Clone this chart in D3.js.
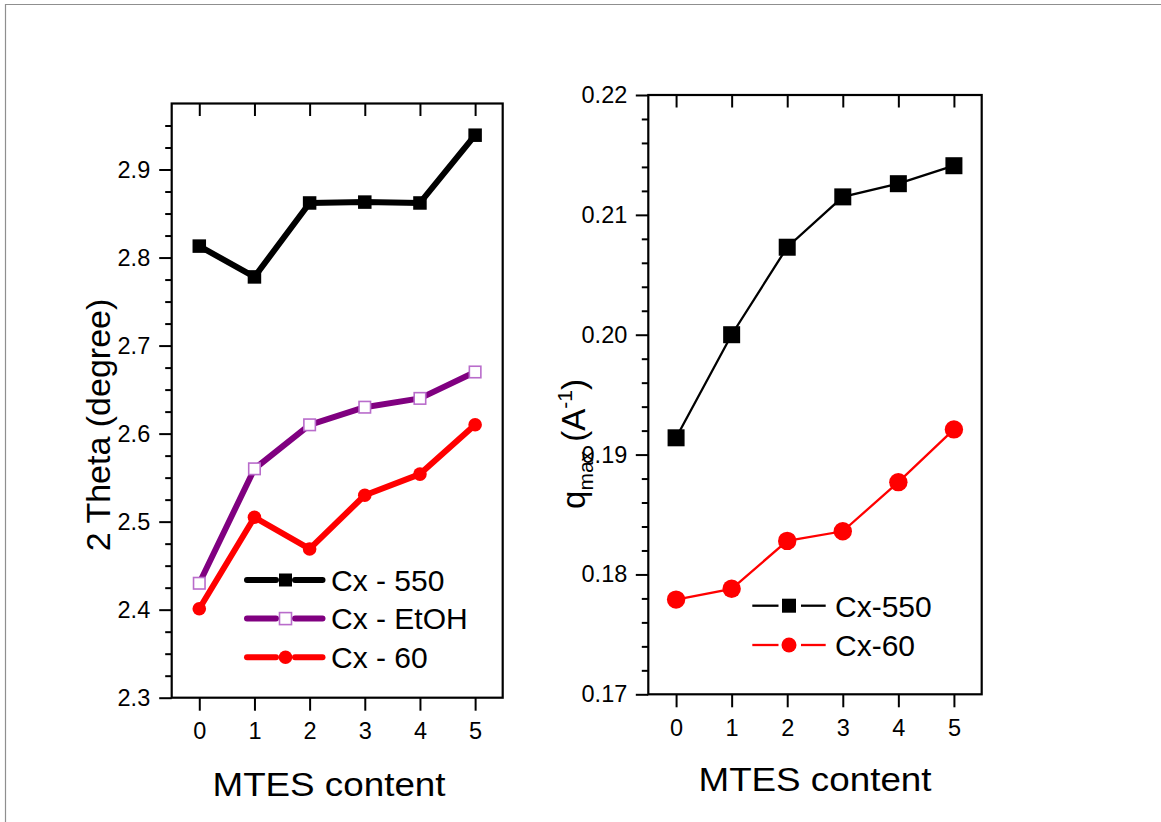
<!DOCTYPE html>
<html lang="en">
<head>
<meta charset="UTF-8">
<title>MTES content</title>
<script src="https://d3js.org/d3.v7.min.js"></script>
<style>
  body { margin: 0; background: #fff; }
  text { font-family: Arial, "Liberation Sans", sans-serif; fill: #000; }
</style>
</head>
<body>
<div class="canvas"></div>
<script>
  // data
  const mtes = [0, 1, 2, 3, 4, 5]
  const theta550 = [2.813, 2.778, 2.862, 2.863, 2.862, 2.939]
  const thetaEtOH = [2.43, 2.56, 2.61, 2.63, 2.64, 2.67]
  const theta60 = [2.401, 2.505, 2.469, 2.53, 2.554, 2.61]
  const q550 = [0.1914, 0.2000, 0.2073, 0.2115, 0.2126, 0.2141]
  const q60 = [0.1779, 0.1788, 0.1828, 0.1836, 0.1877, 0.1921]
  const thetaTicks = [2.3, 2.4, 2.5, 2.6, 2.7, 2.8, 2.9]
  const qTicks = [0.17, 0.18, 0.19, 0.20, 0.21, 0.22]
  const leftLegend = ['Cx - 550', 'Cx - EtOH', 'Cx - 60']
  const rightLegend = ['Cx-550', 'Cx-60']

  const width = 1161
  const height = 822

  const svg = d3.select('.canvas')
    .append('svg')
    .attr('width', width)
    .attr('height', height)

  // page border (top + left only)
  svg.append('path')
    .attr('d', `M5.5,${height} V4.5 H${width}`)
    .attr('fill', 'none')
    .attr('stroke', '#8f8f8f')
    .attr('stroke-width', 1.2)

  function panel(opt) {
    const g = svg.append('g')
    const x = d3.scaleLinear().domain([-0.5, 5.5]).range([opt.left, opt.right])
    const y = d3.scaleLinear().domain(opt.yDomain).range([opt.bottom, opt.top])

    // minor y ticks
    g.append('g')
      .attr('transform', `translate(${opt.left},0)`)
      .call(d3.axisLeft(y).tickValues(opt.minor).tickSize(6.5).tickFormat(''))
      .call(a => a.select('.domain').remove())
      .call(a => a.selectAll('line').attr('stroke-width', 2))

    // major y ticks
    const yAxisG = g.append('g')
      .attr('transform', `translate(${opt.left},0)`)
      .call(d3.axisLeft(y).tickValues(opt.yTicks).tickSize(12.5).tickPadding(opt.yPad).tickFormat(opt.fmt))
    yAxisG.select('.domain').remove()
    yAxisG.selectAll('line').attr('stroke-width', 2)
    yAxisG.selectAll('text').style('font-size', '23.5px').attr('font-family', null)

    // bottom ticks
    const xAxisG = g.append('g')
      .attr('transform', `translate(0,${opt.bottom})`)
      .call(d3.axisBottom(x).tickValues(mtes).tickSize(13).tickPadding(12).tickFormat(d3.format('d')))
    xAxisG.select('.domain').remove()
    xAxisG.selectAll('line').attr('stroke-width', 2)
    xAxisG.selectAll('text').style('font-size', '23.5px').attr('font-family', null)

    // top ticks, pointing inward
    g.append('g')
      .attr('transform', `translate(0,${opt.top})`)
      .call(d3.axisTop(x).tickValues(mtes).tickSize(-12.5).tickFormat(''))
      .call(a => a.select('.domain').remove())
      .call(a => a.selectAll('line').attr('stroke-width', 2))

    // frame
    g.append('rect')
      .attr('x', opt.left)
      .attr('y', opt.top)
      .attr('width', opt.right - opt.left)
      .attr('height', opt.bottom - opt.top)
      .attr('fill', 'none')
      .attr('stroke', '#000')
      .attr('stroke-width', 2.2)

    // x label
    g.append('text')
      .attr('x', opt.xLabelX)
      .attr('y', opt.xLabelY)
      .attr('text-anchor', 'middle')
      .attr('textLength', 233)
      .attr('lengthAdjust', 'spacingAndGlyphs')
      .style('font-size', '34px')
      .text('MTES content')

    return { g, x, y }
  }

  // ---------- left panel ----------
  const L = panel({
    left: 171.7, right: 502.7, top: 103.5, bottom: 697.7,
    yDomain: [2.3, 2.975],
    yTicks: thetaTicks,
    minor: d3.range(2.325, 2.97, 0.025).filter(v => Math.abs(v * 10 - Math.round(v * 10)) > 0.01),
    fmt: d3.format('.1f'),
    yPad: 9,
    xLabelX: 329, xLabelY: 796
  })

  L.g.append('text')
    .attr('transform', 'translate(110,425) rotate(-90)')
    .attr('text-anchor', 'middle')
    .style('font-size', '34px')
    .text('2 Theta (degree)')

  const leftSeries = [
    { values: theta550, color: '#000', marker: 'square', fill: '#000', stroke: 'none' },
    { values: thetaEtOH, color: '#800080', marker: 'square', fill: '#fff', stroke: '#b96ccb' },
    { values: theta60, color: '#ff0000', marker: 'circle', fill: '#ff0000', stroke: 'none' }
  ]

  const lineL = d3.line().x((d, i) => L.x(mtes[i])).y(d => L.y(d))

  function drawMarker(sel, s, cx, cy, size, r) {
    if (s.marker === 'square') {
      sel.append('rect')
        .attr('x', cx - size / 2).attr('y', cy - size / 2)
        .attr('width', size).attr('height', size)
        .attr('fill', s.fill)
        .attr('stroke', s.stroke)
        .attr('stroke-width', 1.6)
    } else {
      sel.append('circle')
        .attr('cx', cx).attr('cy', cy).attr('r', r)
        .attr('fill', s.fill)
    }
  }

  leftSeries.forEach(s => {
    L.g.append('path')
      .attr('d', lineL(s.values))
      .attr('fill', 'none')
      .attr('stroke', s.color)
      .attr('stroke-width', 6)
      .attr('stroke-linejoin', 'round')
      .attr('stroke-linecap', 'round')
    s.values.forEach((v, i) => drawMarker(L.g, s, L.x(mtes[i]), L.y(v), s.fill === '#fff' ? 11.5 : 13.5, 6.8))
  })

  // left legend
  const legL = L.g.append('g')
  leftLegend.forEach((name, i) => {
    const s = leftSeries[i]
    const cy = 580 + i * 38.6
    ;[[247, 276], [295, 322.5]].forEach(seg => {
      legL.append('line')
        .attr('x1', seg[0]).attr('x2', seg[1])
        .attr('y1', cy).attr('y2', cy)
        .attr('stroke', s.color)
        .attr('stroke-width', 6)
        .attr('stroke-linecap', 'round')
    })
    drawMarker(legL, s, 285.5, cy, s.fill === '#fff' ? 12 : 13, 6.8)
    legL.append('text')
      .attr('x', 331)
      .attr('y', cy + 10.5)
      .style('font-size', '30px')
      .text(name)
  })

  // ---------- right panel ----------
  const R = panel({
    left: 648.3, right: 981.7, top: 95, bottom: 694.3,
    yDomain: [0.17, 0.22],
    yTicks: qTicks,
    minor: d3.range(0.172, 0.2195, 0.002).filter(v => Math.abs(v * 100 - Math.round(v * 100)) > 0.01),
    fmt: d3.format('.2f'),
    yPad: 8.5,
    xLabelX: 815, xLabelY: 791
  })

  const qLabel = R.g.append('text')
    .attr('transform', 'translate(585,444) rotate(-90)')
    .attr('text-anchor', 'middle')
    .style('font-size', '33px')
  qLabel.append('tspan').text('q')
  qLabel.append('tspan').attr('dy', 8).style('font-size', '21px').text('max')
  qLabel.append('tspan').attr('dy', -8).text(' (A')
  qLabel.append('tspan').attr('dy', -13).style('font-size', '21px').text('-1')
  qLabel.append('tspan').attr('dy', 13).text(')')

  const rightSeries = [
    { values: q550, color: '#000', marker: 'square', fill: '#000', stroke: 'none' },
    { values: q60, color: '#ff0000', marker: 'circle', fill: '#ff0000', stroke: 'none' }
  ]

  const lineR = d3.line().x((d, i) => R.x(mtes[i])).y(d => R.y(d))

  rightSeries.forEach(s => {
    R.g.append('path')
      .attr('d', lineR(s.values))
      .attr('fill', 'none')
      .attr('stroke', s.color)
      .attr('stroke-width', 2.3)
    s.values.forEach((v, i) => drawMarker(R.g, s, R.x(mtes[i]), R.y(v), 17, 9.2))
  })

  const legR = R.g.append('g')
  rightLegend.forEach((name, i) => {
    const s = rightSeries[i]
    const cy = 605.7 + i * 39.3
    ;[[752.3, 778.5], [801, 825.7]].forEach(seg => {
      legR.append('line')
        .attr('x1', seg[0]).attr('x2', seg[1])
        .attr('y1', cy).attr('y2', cy)
        .attr('stroke', s.color)
        .attr('stroke-width', 2.3)
    })
    drawMarker(legR, s, 789, cy, 14, 7.5)
    legR.append('text')
      .attr('x', 835)
      .attr('y', cy + 11)
      .style('font-size', '30px')
      .text(name)
  })
</script>
</body>
</html>
